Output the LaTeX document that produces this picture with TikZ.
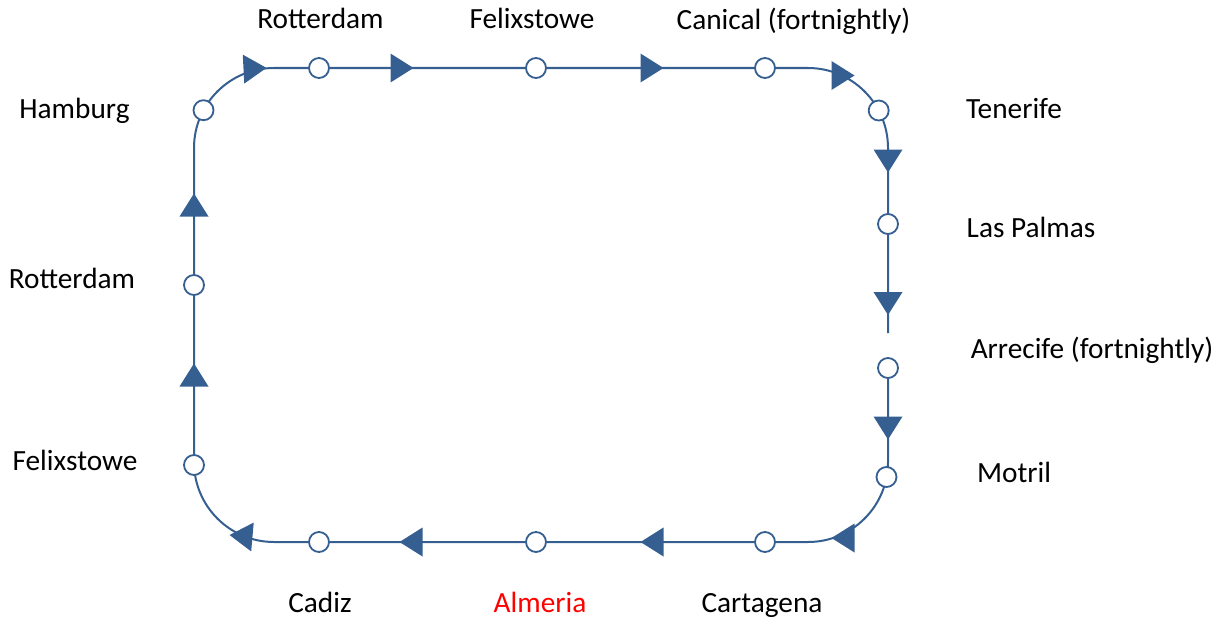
\documentclass[tikz,border=0pt]{standalone}
\usepackage{fontspec}
\setmainfont{Carlito}
\usetikzlibrary{calc}
\definecolor{route}{RGB}{54,95,145}
\definecolor{almred}{RGB}{255,0,0}

\tikzset{
    leg/.style={draw=route, line width=2pt},
    port/.style={circle, draw=route, line width=1.8pt, fill=white, minimum size=20pt, inner sep=0pt},
    lbl/.style={anchor=base, font=\fontsize{29.3}{35}\selectfont}
}

\begin{document}
\begin{tikzpicture}[x=1pt,y=1pt]
            \useasboundingbox (0,0) rectangle (1228,-618);

            % ends of the straight legs
            \coordinate (S) at (888,-368);
            \coordinate (BR) at (888,-462);
            \coordinate (BL) at (274,-542);
            \coordinate (TL) at (194,-148);
            \coordinate (TR) at (808,-68);
            \coordinate (G) at (888,-333);

            \draw [leg]
                (S) -- (BR) arc[start angle=0, end angle=-90, radius=80]
                -- (BL) arc[start angle=270, end angle=180, radius=80]
                -- (TL) arc[start angle=180, end angle=90, radius=80]
                -- (TR) arc[start angle=90, end angle=0, radius=80]
                -- (G);

            % direction arrows
            \foreach \x/\y/\a in {888/-428/-90, 843/-538/180, 652/-542/180, 411/-542/180,
                241/-536/175, 194/-375/90, 194/-205/90, 255/-68.5/3,
                402/-68/0, 652/-68/0, 843/-75.5/0, 888/-161/-90, 888/-303.5/-90}
                {
                    \fill [route, shift={(\x,\y)}, rotate=\a] (11.5,0) -- (-11.5,14.5) -- (-11.5,-14.5) -- cycle;
                }

            % ports on the loop
            \foreach \n/\x/\y in {hamb/203.5/-110.2, rotA/319/-68, felA/536/-68, can/765/-68,
                ten/878.7/-110.5, lpa/888/-224, arr/888/-368, mot/886.5/-477,
                cart/765/-542, alm/536/-542, cad/319/-542, felB/194/-465, rotB/194/-285}
                {
                    \node [port] (\n) at (\x,\y) {};
                }

            % port names
            \foreach \n/\x/\y/\t in {lrotA/320.5/-29/Rotterdam, lfelA/532/-29/Felixstowe,
                lcan/793.5/-30/Canical (fortnightly), lhamb/74.5/-118/Hamburg,
                lten/1014/-118/Tenerife, llpa/1031/-237/Las Palmas,
                larr/1092/-358/Arrecife (fortnightly), lmot/1014/-482/Motril,
                lcart/762/-612/Cartagena, lcad/320/-612/Cadiz,
                lfelB/75/-470/Felixstowe, lrotB/72/-288/Rotterdam}
                {
                    \node [lbl] (\n) at (\x,\y) {\t};
                }
            \node [lbl, text=almred] (lalm) at (540,-612) {Almeria};

\end{tikzpicture}
\end{document}
